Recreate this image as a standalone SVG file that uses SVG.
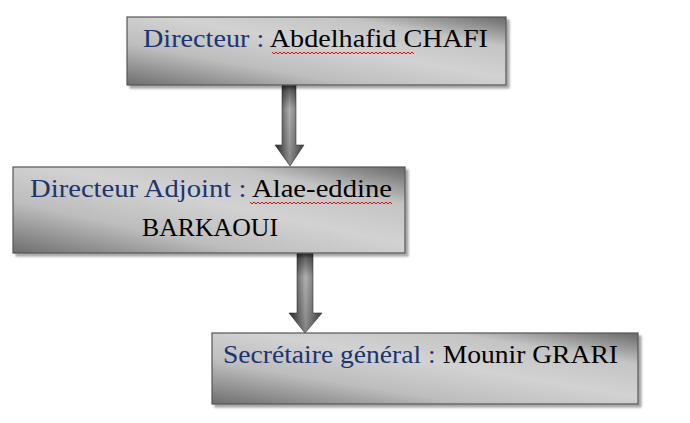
<svg xmlns="http://www.w3.org/2000/svg" width="690" height="423" viewBox="0 0 690 423">
<defs>
<linearGradient id="boxg" x1="0" y1="1" x2="1" y2="0">
<stop offset="0" stop-color="#6e6e6e"/>
<stop offset="0.3" stop-color="#bdbdbd"/>
<stop offset="0.55" stop-color="#d2d2d2"/>
<stop offset="0.78" stop-color="#c4c4c4"/>
<stop offset="1" stop-color="#686868"/>
</linearGradient>
<linearGradient id="arrg" x1="0" y1="0" x2="1" y2="0">
<stop offset="0" stop-color="#2e2e2e"/>
<stop offset="0.5" stop-color="#b0b0b0"/>
<stop offset="1" stop-color="#4a4a4a"/>
</linearGradient>
<linearGradient id="arrv" x1="0" y1="0" x2="0" y2="1">
<stop offset="0" stop-color="#000" stop-opacity="0.55"/>
<stop offset="0.3" stop-color="#000" stop-opacity="0"/>
<stop offset="1" stop-color="#000" stop-opacity="0.25"/>
</linearGradient>
<filter id="sh" x="-5%" y="-10%" width="115%" height="130%">
<feOffset dx="3" dy="3" in="SourceAlpha" result="o"/>
<feGaussianBlur in="o" stdDeviation="1.2" result="b"/>
<feFlood flood-color="#000" flood-opacity="0.35"/>
<feComposite in2="b" operator="in" result="s"/>
<feMerge><feMergeNode in="s"/><feMergeNode in="SourceGraphic"/></feMerge>
</filter>
</defs>
<style>
.box{fill:url(#boxg);stroke:#555;stroke-width:1.2;filter:url(#sh)}
.lbl{fill:#1c3570}
.wave{fill:none;stroke:#e01010;stroke-width:1}
.arr{fill:url(#arrg);stroke:#3a3a3a;stroke-width:0.6}
</style>
<rect width="690" height="423" fill="#fff"/>
<g id="connectors">
<g id="arrow1">
<path class="arr" d="M282,85 H296 V145 H304 L290,166 L275,145 H282 Z"/>
<path d="M282,85 H296 V145 H304 L290,166 L275,145 H282 Z" fill="url(#arrv)"/>
</g>
<g id="arrow2">
<path class="arr" d="M297,253 H313 V313 H322 L305,333 L289,313 H297 Z"/>
<path d="M297,253 H313 V313 H322 L305,333 L289,313 H297 Z" fill="url(#arrv)"/>
</g>
</g>
<g id="node-directeur">
<rect class="box" x="127" y="17" width="379" height="68"/>
<text font-family="Liberation Serif, serif" font-size="26" fill="#000" x="143" y="47" textLength="345" lengthAdjust="spacingAndGlyphs"><tspan class="lbl">Directeur :</tspan> Abdelhafid CHAFI</text>
<path class="wave" d="M272,52 l2,2 l2,-2 l2,2 l2,-2 l2,2 l2,-2 l2,2 l2,-2 l2,2 l2,-2 l2,2 l2,-2 l2,2 l2,-2 l2,2 l2,-2 l2,2 l2,-2 l2,2 l2,-2 l2,2 l2,-2 l2,2 l2,-2 l2,2 l2,-2 l2,2 l2,-2 l2,2 l2,-2 l2,2 l2,-2 l2,2 l2,-2 l2,2 l2,-2 l2,2 l2,-2 l2,2 l2,-2 l2,2 l2,-2 l2,2 l2,-2 l2,2 l2,-2 l2,2 l2,-2 l2,2 l2,-2 l2,2 l2,-2 l2,2 l2,-2 l2,2 l2,-2 l2,2 l2,-2 l2,2 l2,-2 l2,2 l2,-2 l2,2 l2,-2 l2,2 l2,-2 l2,2 l2,-2 l2,2 l2,-2 l2,2"/>
</g>
<g id="node-adjoint">
<rect class="box" x="13" y="167" width="392" height="86"/>
<text font-family="Liberation Serif, serif" font-size="26" fill="#000" x="30" y="197" textLength="362" lengthAdjust="spacingAndGlyphs"><tspan class="lbl">Directeur Adjoint :</tspan> Alae-eddine</text>
<text font-family="Liberation Serif, serif" font-size="26" fill="#000" x="142" y="236" textLength="136" lengthAdjust="spacingAndGlyphs">BARKAOUI</text>
<path class="wave" d="M250,202 l2,2 l2,-2 l2,2 l2,-2 l2,2 l2,-2 l2,2 l2,-2 l2,2 l2,-2 l2,2 l2,-2 l2,2 l2,-2 l2,2 l2,-2 l2,2 l2,-2 l2,2 l2,-2 l2,2 l2,-2 l2,2 l2,-2 l2,2 l2,-2 l2,2 l2,-2 l2,2 l2,-2 l2,2 l2,-2 l2,2 l2,-2 l2,2 l2,-2 l2,2 l2,-2 l2,2 l2,-2 l2,2 l2,-2 l2,2 l2,-2 l2,2 l2,-2 l2,2 l2,-2 l2,2 l2,-2 l2,2 l2,-2 l2,2 l2,-2 l2,2 l2,-2 l2,2 l2,-2 l2,2 l2,-2 l2,2 l2,-2 l2,2 l2,-2 l2,2 l2,-2 l2,2 l2,-2 l2,2 l2,-2 l2,2"/>
</g>
<g id="node-secretaire">
<rect class="box" x="212" y="333" width="426" height="71"/>
<text font-family="Liberation Serif, serif" font-size="26" fill="#000" x="223" y="363" textLength="395" lengthAdjust="spacingAndGlyphs"><tspan class="lbl">Secrétaire général :</tspan> Mounir GRARI</text>
</g>
</svg>
